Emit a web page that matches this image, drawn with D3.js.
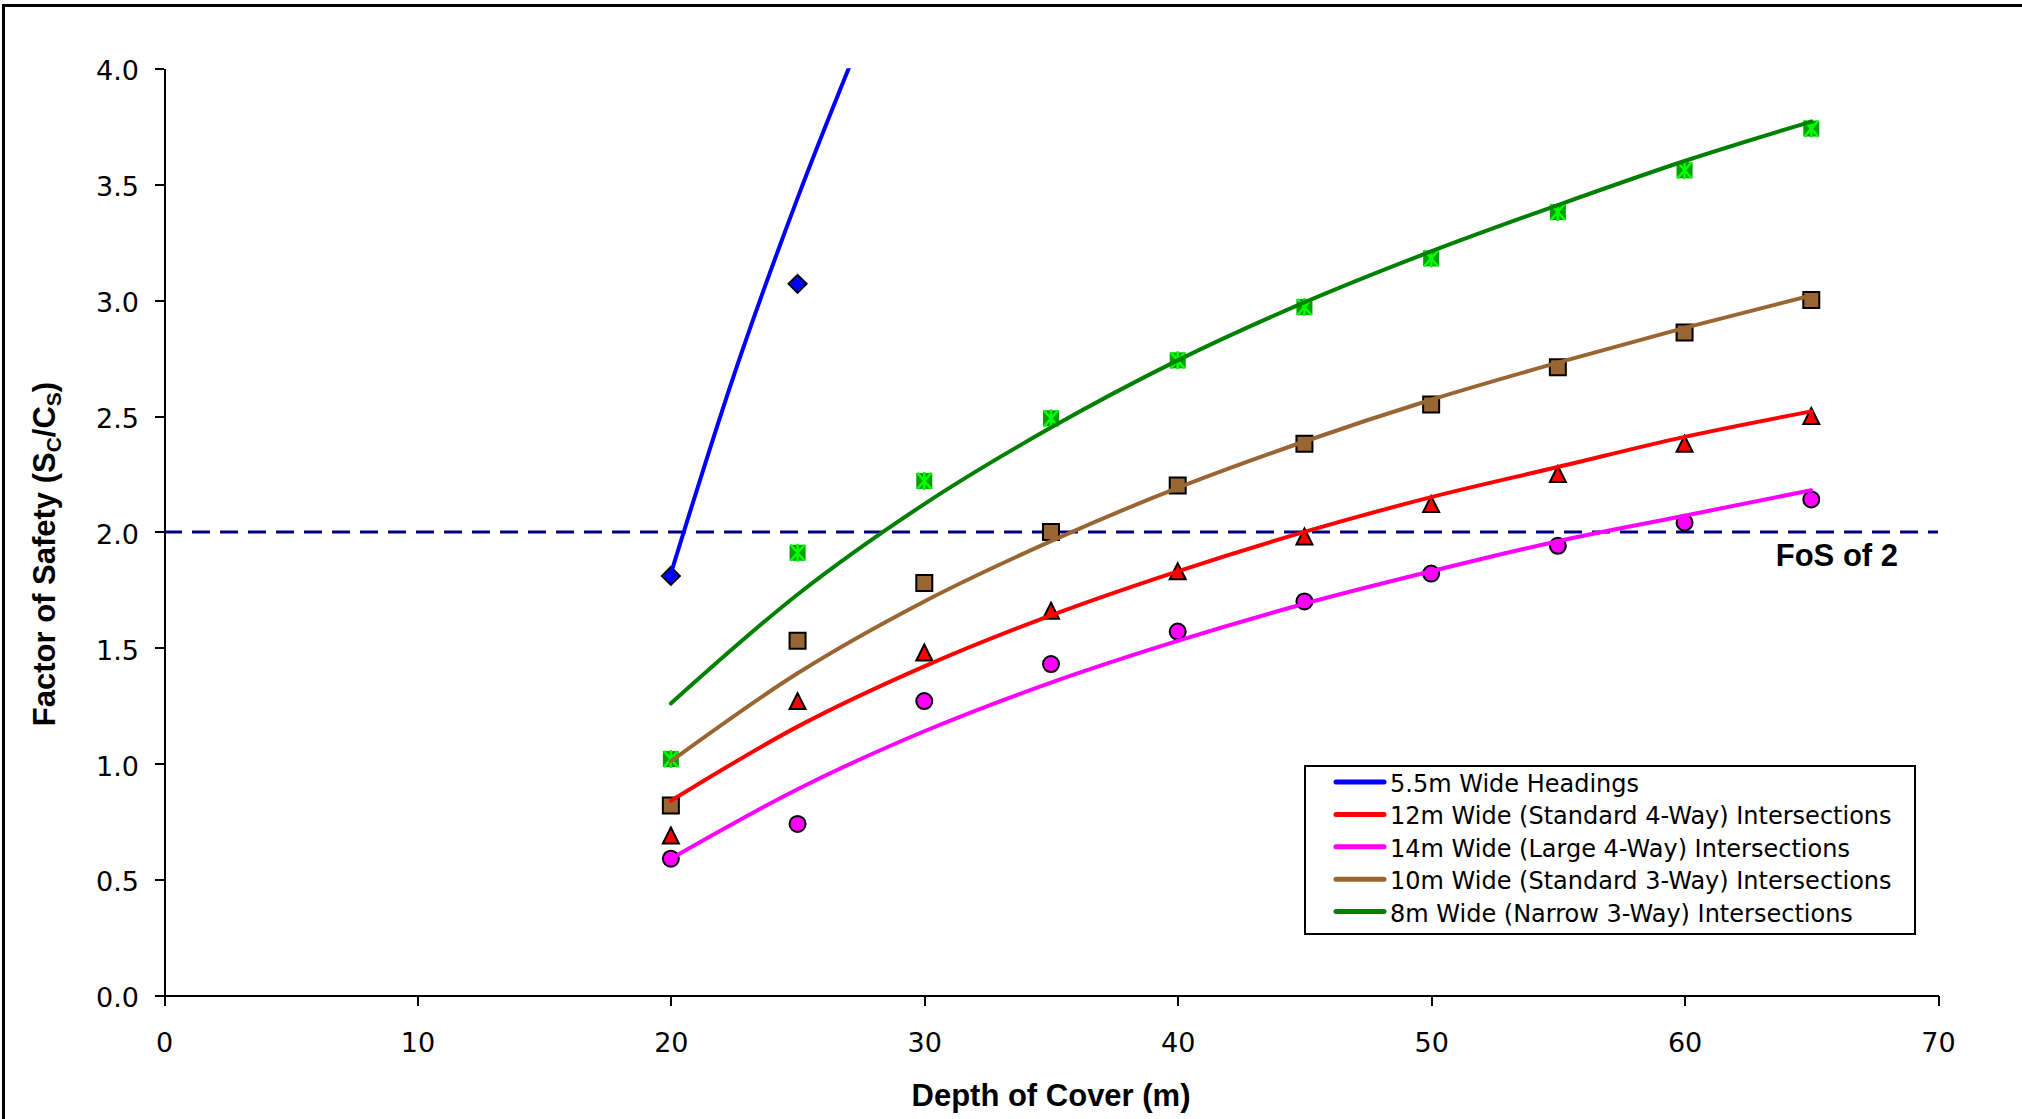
<!DOCTYPE html>
<html>
<head>
<meta charset="utf-8">
<script src="https://cdn.jsdelivr.net/npm/d3@7"></script>
<style>
  body { margin: 0; background: #fff; }
  svg { display: block; }
  .axis path, .axis line { stroke: #000; stroke-width: 2; shape-rendering: crispEdges; }
  .axis text { font-family: "DejaVu Sans", sans-serif; font-size: 27px; fill: #000; }
  .title { font-family: "Liberation Sans", Arial, sans-serif; font-weight: bold; font-size: 31px; fill: #000; }
  .legend text { font-family: "DejaVu Sans", sans-serif; font-size: 24px; fill: #000; }
</style>
</head>
<body>
<svg width="2022" height="1119"></svg>
<script>
// Depth of cover (m) for every intersection series
var depths = [20, 25, 30, 35, 40, 45, 50, 55, 60, 65];

// 5.5m headings: only the first two points sit inside the chart
var headingDepths = [20, 25];
var fosHeadings = [1.81, 3.07];

// Factor of safety
var fosStd4Way    = [0.69, 1.27, 1.48, 1.66, 1.83, 1.98, 2.12, 2.25, 2.38, 2.50];
var fosLarge4Way  = [0.59, 0.74, 1.27, 1.43, 1.57, 1.70, 1.82, 1.94, 2.04, 2.14];
var fosStd3Way    = [0.82, 1.53, 1.78, 2.00, 2.20, 2.38, 2.55, 2.71, 2.86, 3.00];
var fosNarrow3Way = [1.02, 1.91, 2.22, 2.49, 2.74, 2.97, 3.18, 3.38, 3.56, 3.74];

// Trend curves (same depths as above)
var trendHeadingDepths = [20, 22.5, 25, 27.5];
var trendHeadings      = [1.82, 2.68, 3.44, 4.13];
var trendStd4Way    = [0.84, 1.16, 1.42, 1.64, 1.83, 2.00, 2.15, 2.28, 2.41, 2.52];
var trendLarge4Way  = [0.59, 0.89, 1.14, 1.35, 1.53, 1.69, 1.83, 1.96, 2.07, 2.18];
var trendStd3Way    = [1.01, 1.39, 1.70, 1.96, 2.19, 2.39, 2.57, 2.73, 2.88, 3.02];
var trendNarrow3Way = [1.26, 1.73, 2.12, 2.45, 2.74, 2.99, 3.21, 3.41, 3.60, 3.77];

var seriesNames = [
  '5.5m Wide Headings',
  '12m Wide (Standard 4-Way) Intersections',
  '14m Wide (Large 4-Way) Intersections',
  '10m Wide (Standard 3-Way) Intersections',
  '8m Wide (Narrow 3-Way) Intersections'
];

var xTicks = [0, 10, 20, 30, 40, 50, 60, 70];
var yTicks = [0, 0.5, 1, 1.5, 2, 2.5, 3, 3.5, 4];
var fosTarget = 2;
var fosTargetLabel = 'FoS of 2';

// pair up x and y arrays
function pts(xs, ys) {
  return xs.map(function (d, i) { return { x: d, y: ys[i] }; });
}

var series = [
  { name: seriesNames[0], color: '#0000ff', shape: 'diamond', fill: '#0000ff',
    points: pts(headingDepths, fosHeadings), trend: pts(trendHeadingDepths, trendHeadings) },
  { name: seriesNames[1], color: '#ff0000', shape: 'triangle', fill: '#ff0000',
    points: pts(depths, fosStd4Way), trend: pts(depths, trendStd4Way) },
  { name: seriesNames[2], color: '#ff00ff', shape: 'circle', fill: '#ff00ff',
    points: pts(depths, fosLarge4Way), trend: pts(depths, trendLarge4Way) },
  { name: seriesNames[3], color: '#996633', shape: 'square', fill: '#996633',
    points: pts(depths, fosStd3Way), trend: pts(depths, trendStd3Way) },
  { name: seriesNames[4], color: '#008000', shape: 'star', fill: '#00a000',
    points: pts(depths, fosNarrow3Way), trend: pts(depths, trendNarrow3Way) }
];

var svg = d3.select('svg');
var plotLeft = 164, plotRight = 1938, plotTop = 68.3, plotBottom = 995.5;

var x = d3.scaleLinear().domain([0, 70]).range([plotLeft, plotRight]);
var y = d3.scaleLinear().domain([0, 4]).range([plotBottom, plotTop]);

// chart border (runs off the right and bottom of the picture)
svg.append('rect')
  .attr('x', 3.5).attr('y', 5.5)
  .attr('width', 2100).attr('height', 1200)
  .attr('fill', 'none').attr('stroke', '#000').attr('stroke-width', 3);

svg.append('clipPath').attr('id', 'plot')
  .append('rect')
  .attr('x', plotLeft).attr('y', plotTop)
  .attr('width', plotRight - plotLeft).attr('height', plotBottom - plotTop);

// axes
svg.append('g')
  .attr('class', 'axis')
  .attr('transform', 'translate(0,' + plotBottom + ')')
  .call(d3.axisBottom(x).tickValues(xTicks).tickSize(10).tickSizeOuter(0).tickPadding(27));

svg.append('g')
  .attr('class', 'axis')
  .attr('transform', 'translate(' + plotLeft + ',0)')
  .call(d3.axisLeft(y).tickValues(yTicks).tickFormat(d3.format('.1f')).tickSize(9).tickSizeOuter(0).tickPadding(16))
  .selectAll('text').attr('dy', '0.42em');

// FoS = 2 reference line
svg.append('line')
  .attr('x1', x(0)).attr('x2', x(70))
  .attr('y1', y(fosTarget)).attr('y2', y(fosTarget))
  .attr('stroke', '#000080').attr('stroke-width', 3)
  .attr('stroke-dasharray', '18,10');

svg.append('text')
  .attr('class', 'title')
  .attr('x', 1898).attr('y', y(fosTarget) + 34)
  .attr('text-anchor', 'end')
  .text(fosTargetLabel);

// marker shapes
function markerPath(shape) {
  var s = 8;
  if (shape === 'diamond') return 'M0,' + (-s - 1) + 'L' + (s + 1) + ',0L0,' + (s + 1) + 'L' + (-s - 1) + ',0Z';
  if (shape === 'triangle') return 'M0,' + (-s) + 'L' + s + ',' + s + 'L' + (-s) + ',' + s + 'Z';
  if (shape === 'square') return 'M' + (-s) + ',' + (-s) + 'h' + (2 * s) + 'v' + (2 * s) + 'h' + (-2 * s) + 'Z';
  return null;
}

var markers = svg.append('g');
series.forEach(function (s) {
  var g = markers.selectAll(null)
    .data(s.points)
    .enter()
    .append('g')
    .attr('transform', function (d) { return 'translate(' + x(d.x) + ',' + y(d.y) + ')'; });

  if (s.shape === 'circle') {
    g.append('circle').attr('r', 8)
      .attr('fill', s.fill).attr('stroke', '#000').attr('stroke-width', 2);
  } else if (s.shape === 'star') {
    g.append('rect').attr('x', -8).attr('y', -8).attr('width', 16).attr('height', 16)
      .attr('fill', s.fill);
    g.append('path')
      .attr('d', 'M-7,-8L7,8M7,-8L-7,8M0,-9V9')
      .attr('stroke', '#00ff00').attr('stroke-width', 2.5).attr('fill', 'none');
  } else {
    g.append('path').attr('d', markerPath(s.shape))
      .attr('fill', s.fill).attr('stroke', '#000').attr('stroke-width', 2)
      .attr('stroke-linejoin', 'miter');
  }
});

// trend curves on top of the markers
var trendLine = d3.line()
  .x(function (d) { return x(d.x); })
  .y(function (d) { return y(d.y); })
  .curve(d3.curveMonotoneX);

svg.append('g')
  .attr('clip-path', 'url(#plot)')
  .selectAll('path')
  .data(series)
  .enter()
  .append('path')
  .attr('d', function (d) { return trendLine(d.trend); })
  .attr('fill', 'none')
  .attr('stroke', function (d) { return d.color; })
  .attr('stroke-width', 4)
  .attr('stroke-linecap', 'round');

// axis titles
svg.append('text')
  .attr('class', 'title')
  .attr('x', (plotLeft + plotRight) / 2).attr('y', 1106)
  .attr('text-anchor', 'middle')
  .text('Depth of Cover (m)');

var yTitle = svg.append('text')
  .attr('class', 'title')
  .attr('transform', 'translate(55,554) rotate(-90)')
  .attr('text-anchor', 'middle');
yTitle.append('tspan').text('Factor of Safety (S');
yTitle.append('tspan').attr('dy', 6).style('font-size', '21px').text('C');
yTitle.append('tspan').attr('dy', -6).text('/C');
yTitle.append('tspan').attr('dy', 6).style('font-size', '21px').text('S');
yTitle.append('tspan').attr('dy', -6).text(')');

// legend
var legend = svg.append('g').attr('class', 'legend');
legend.append('rect')
  .attr('x', 1305).attr('y', 766)
  .attr('width', 610).attr('height', 168)
  .attr('fill', '#fff').attr('stroke', '#000').attr('stroke-width', 2);

var rows = legend.selectAll('g.row')
  .data(series)
  .enter()
  .append('g')
  .attr('class', 'row')
  .attr('transform', function (d, i) { return 'translate(0,' + (782 + i * 32.4) + ')'; });

rows.append('line')
  .attr('x1', 1336).attr('x2', 1384)
  .attr('stroke', function (d) { return d.color; })
  .attr('stroke-width', 5)
  .attr('stroke-linecap', 'round');

rows.append('text')
  .attr('x', 1390).attr('y', 2)
  .attr('dominant-baseline', 'central')
  .text(function (d) { return d.name; });
</script>
</body>
</html>
